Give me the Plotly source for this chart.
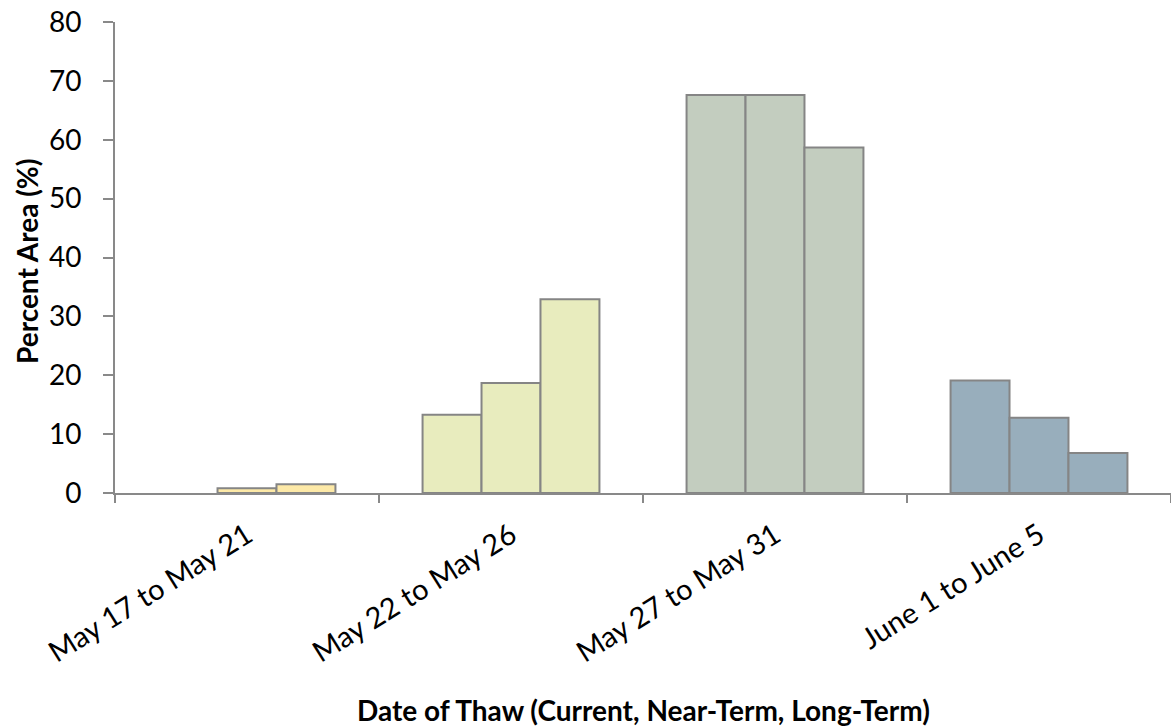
import plotly.graph_objects as go

categories = ["May 17 to May 21", "May 22 to May 26", "May 27 to May 31", "June 1 to June 5"]
series_names = ["Current", "Near-Term", "Long-Term"]
current = [0.0, 13.3, 67.6, 19.1]
near_term = [0.8, 18.7, 67.6, 12.8]
long_term = [1.5, 32.9, 58.7, 6.8]
category_colors = ["#FDE9A7", "#E8ECBE", "#C3CDBF", "#98AEBC"]
y_ticks = [0, 10, 20, 30, 40, 50, 60, 70, 80]

W, H = 1171, 727
ml, mr, mt, mb = 115, 0, 22, 234
pw, ph = W - ml - mr, H - mt - mb

fig = go.Figure()
for name, vals in zip(series_names, [current, near_term, long_term]):
    fig.add_trace(go.Bar(
        x=categories, y=vals, name=name,
        marker=dict(color=category_colors,
                    line=dict(color="#858585", width=[2 if v > 0 else 0 for v in vals])),
        showlegend=False,
    ))

font_family = "Lato, Liberation Sans, sans-serif"
fig.update_layout(
    width=W, height=H,
    margin=dict(l=ml, r=mr, t=mt, b=mb, autoexpand=False),
    paper_bgcolor="white", plot_bgcolor="white",
    barmode="group", bargap=0.33, bargroupgap=0,
    font=dict(family=font_family, color="#000000"),
    xaxis=dict(
        type="category", showline=True, linecolor="#898989", linewidth=2,
        ticks="outside", tickson="boundaries", ticklen=8, tickcolor="#898989", tickwidth=2,
        tickangle=-32, tickfont=dict(size=29, family=font_family, color="#000"),
        showgrid=False, zeroline=False, automargin=False, ticklabelstandoff=12,
    ),
    yaxis=dict(
        range=[0, 80], tickvals=y_ticks, showline=True, linecolor="#898989", linewidth=2,
        ticks="outside", ticklen=10, tickcolor="#898989", tickwidth=2,
        tickfont=dict(size=28, family=font_family, color="#000"),
        showgrid=False, zeroline=False, automargin=False, ticklabelstandoff=16,
    ),
    annotations=[
        dict(text="<b>Date of Thaw (Current, Near-Term, Long-Term)</b>",
             xref="paper", yref="paper", x=0.5, y=(493 - 710) / ph,
             xanchor="center", yanchor="middle", showarrow=False,
             font=dict(size=28, family=font_family, color="#000")),
        dict(text="<b>Percent Area (%)</b>",
             xref="paper", yref="paper", x=(27 - ml) / pw, y=(493 - 262) / ph, textangle=-90,
             xanchor="center", yanchor="middle", showarrow=False,
             font=dict(size=28, family=font_family, color="#000")),
    ],
)

fig.write_html("out.html", config={"displayModeBar": False},
               post_script="document.body.style.margin='0';document.body.style.overflow='hidden';")
